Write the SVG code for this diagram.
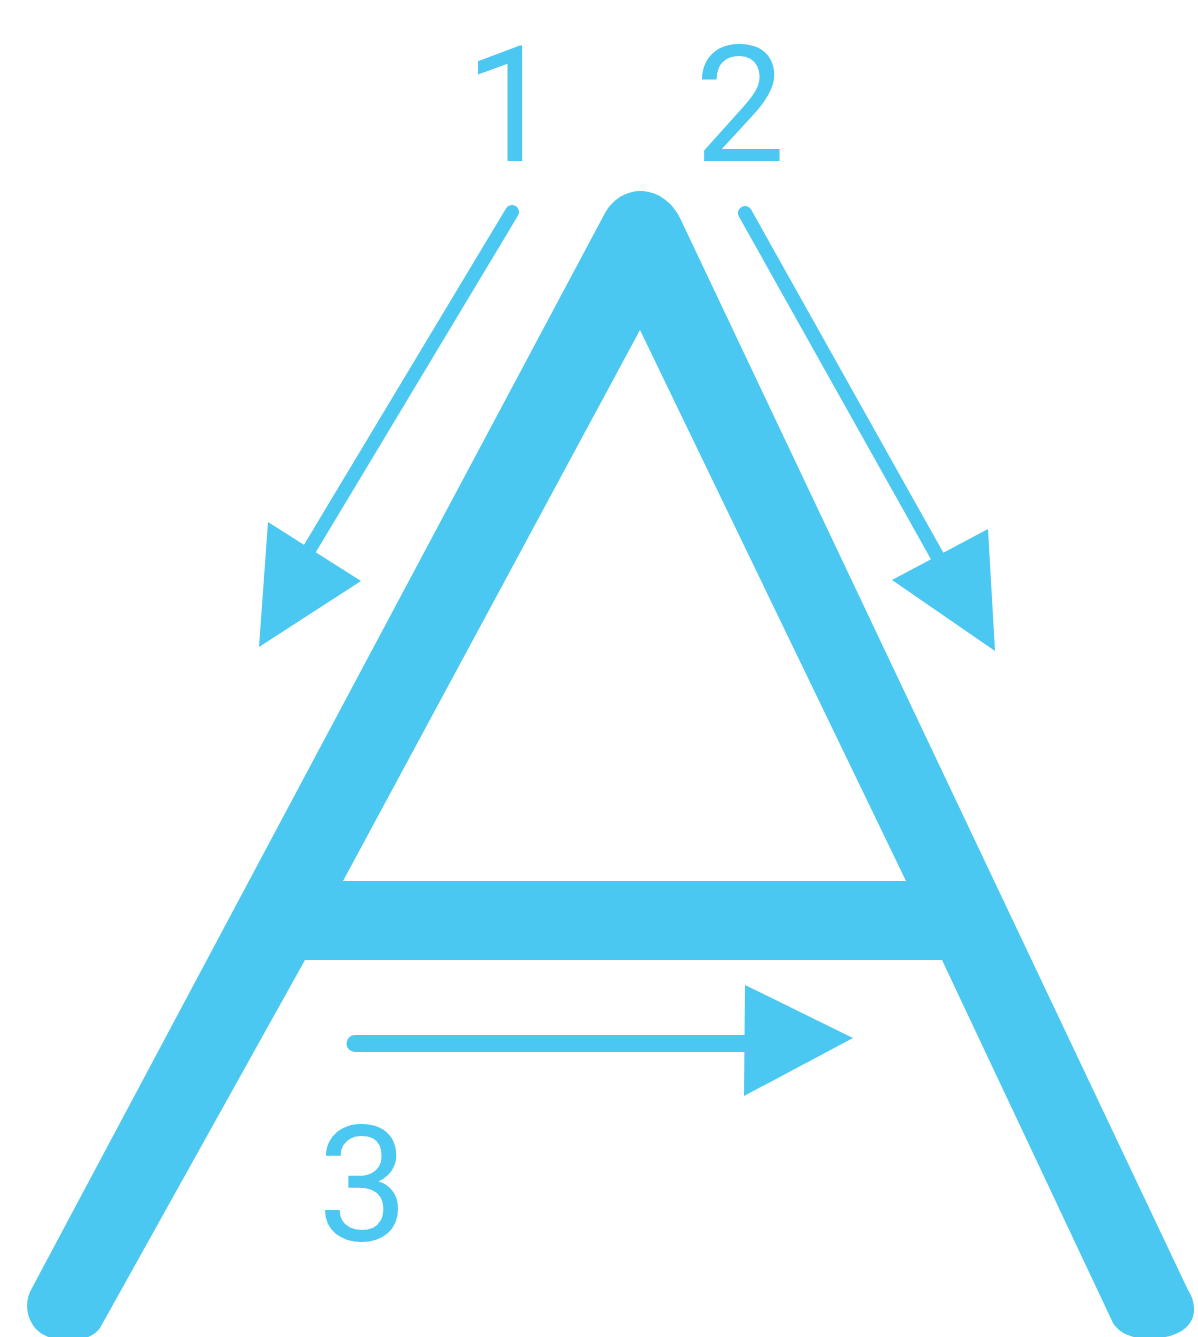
<svg xmlns="http://www.w3.org/2000/svg" width="1198" height="1337" viewBox="0 0 1198 1337">
  <style>
    .ink { fill: #4AC8F2; }
    .stroke { stroke: #4AC8F2; stroke-linecap: round; fill: none; }
    .num { fill: #4AC8F2; font-family: Roboto, "Liberation Sans", sans-serif; font-size: 162px; text-anchor: middle; }
  </style>
  <rect width="1198" height="1337" fill="#ffffff"/>
  <g id="letterA">
    <path class="ink" fill-rule="evenodd" d="M 605,213 C 622,183 662,183 680,218 L 1188,1290 C 1198,1305 1198,1328 1170,1336 C 1145,1342 1122,1338 1113,1323 L 942,960 L 305,960 L 100,1328 C 88,1345 50,1345 35,1328 C 25,1315 25,1300 32,1288 Z M 640,330 L 906,881 L 343,881 Z"/>
  </g>
  <g id="connectors">
    <g id="arrow1">
      <line class="stroke" stroke-width="14" x1="512" y1="212" x2="300" y2="565"/>
      <polygon class="ink" points="268,522 361,581 259,647"/>
    </g>
    <g id="arrow2">
      <line class="stroke" stroke-width="14" x1="745" y1="213" x2="945" y2="570"/>
      <polygon class="ink" points="988,529 892,580 995,651"/>
    </g>
    <g id="arrow3">
      <line class="stroke" stroke-width="17" x1="355" y1="1043.5" x2="760" y2="1043.5"/>
      <polygon class="ink" points="745,985 853,1038 744,1096"/>
    </g>
  </g>
  <g id="labels">
    <text id="label1" class="num" x="510" y="161">1</text>
    <text id="label2" class="num" x="740" y="161">2</text>
    <text id="label3" class="num" x="363" y="1240">3</text>
  </g>
</svg>
